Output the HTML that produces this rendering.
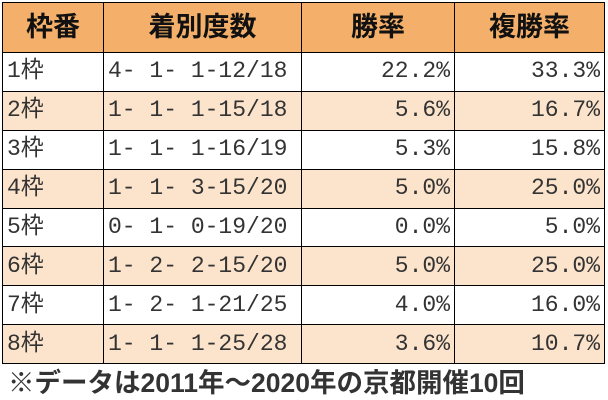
<!DOCTYPE html>
<html><head><meta charset="utf-8"><style>
html,body{margin:0;padding:0;background:#fff;width:608px;height:400px;overflow:hidden}
table{position:absolute;left:2px;top:2px;border-collapse:collapse;font-family:"Liberation Mono","Noto Sans CJK JP",monospace;color:#333}
td,th{border:1.5px solid #000;padding:0 4px;height:37.5px;font-size:23px;white-space:pre;line-height:37px;box-sizing:border-box}
td{height:38.9px}
th{background:#F4B06B;font-family:"Liberation Sans","Noto Sans CJK JP",sans-serif;font-weight:bold;font-size:27px;height:50px;color:#111;text-align:center}
tr.a td{background:#FCE4CC}
td.r{text-align:right}
.c1{width:101px}.c2{width:198px}.c3{width:153px}.c4{width:150px}
.f{position:absolute;left:8px;top:366px;font-family:"Liberation Sans","Noto Sans CJK JP",sans-serif;font-size:26.5px;font-weight:bold;color:#333;white-space:nowrap;line-height:34px}
</style></head><body>
<table>
<tr><th class="c1">枠番</th><th class="c2">着別度数</th><th class="c3">勝率</th><th class="c4">複勝率</th></tr>
<tr><td>1枠</td><td>4- 1- 1-12/18</td><td class="r">22.2%</td><td class="r">33.3%</td></tr>
<tr class="a"><td>2枠</td><td>1- 1- 1-15/18</td><td class="r">5.6%</td><td class="r">16.7%</td></tr>
<tr><td>3枠</td><td>1- 1- 1-16/19</td><td class="r">5.3%</td><td class="r">15.8%</td></tr>
<tr class="a"><td>4枠</td><td>1- 1- 3-15/20</td><td class="r">5.0%</td><td class="r">25.0%</td></tr>
<tr><td>5枠</td><td>0- 1- 0-19/20</td><td class="r">0.0%</td><td class="r">5.0%</td></tr>
<tr class="a"><td>6枠</td><td>1- 2- 2-15/20</td><td class="r">5.0%</td><td class="r">25.0%</td></tr>
<tr><td>7枠</td><td>1- 2- 1-21/25</td><td class="r">4.0%</td><td class="r">16.0%</td></tr>
<tr class="a"><td>8枠</td><td>1- 1- 1-25/28</td><td class="r">3.6%</td><td class="r">10.7%</td></tr>
</table>
<div class="f">※データは2011年～2020年の京都開催10回</div>
</body></html>
